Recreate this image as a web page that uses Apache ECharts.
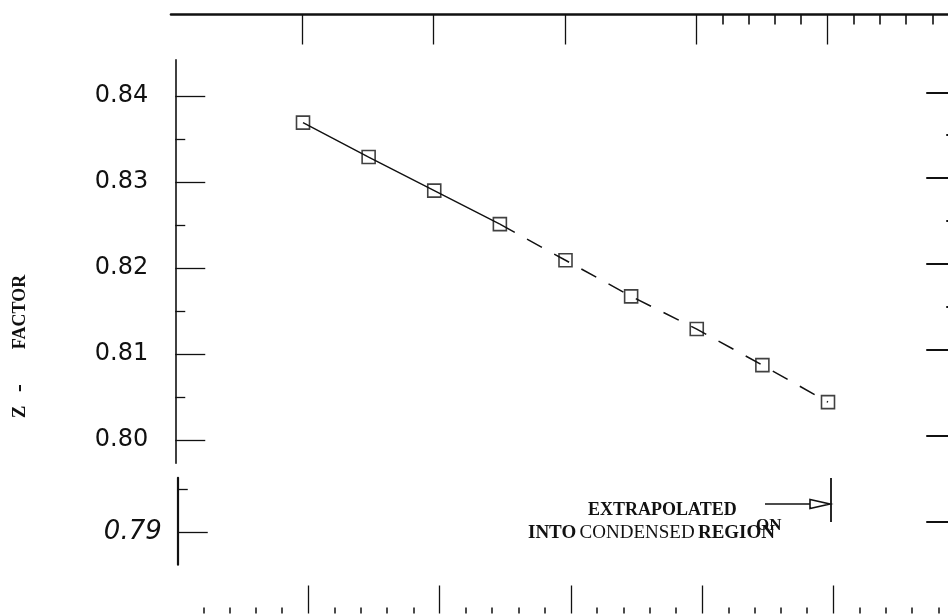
<!DOCTYPE html>
<html>
<head>
<meta charset="utf-8">
<title>Z - FACTOR</title>
<script src="https://cdn.jsdelivr.net/npm/echarts@6/dist/echarts.min.js"></script>
<style>
  html, body { margin: 0; padding: 0; background: #fff; }
  #chart { width: 948px; height: 614px; }
</style>
</head>
<body>
<div id="chart"></div>
<script>
// Measured Z-factor values (solid segment) and their extrapolation (dashed segment)
const xValues = [1.0, 1.5, 2.0, 2.5, 3.0, 3.5, 4.0, 4.5, 5.0];
const zFactor = [0.8369, 0.8329, 0.8290, 0.8251, 0.8209, 0.8167, 0.8129, 0.8087, 0.8044];
const measuredCount = 4;

// Tick positions
const zMajorUpper = [0.80, 0.81, 0.82, 0.83, 0.84];
const zMinorUpper = [0.805, 0.815, 0.825, 0.835];
const zMajorLower = [0.79];
const zMinorLower = [0.795];
const zMajorRight = [0.79, 0.80, 0.81, 0.82, 0.83, 0.84];
const zMinorRight = [0.815, 0.825, 0.835];
const xMajor = [1, 2, 3, 4, 5];
const xMinorTop = [4.2, 4.4, 4.6, 4.8, 5.2, 5.4, 5.6, 5.8];
const xMinorBottom = [0.2, 0.4, 0.6, 0.8, 1.2, 1.4, 1.6, 1.8, 2.2, 2.4, 2.6, 2.8,
                      3.2, 3.4, 3.6, 3.8, 4.2, 4.4, 4.6, 4.8, 5.2, 5.4, 5.6, 5.8];

const INK = '#111';
const SERIF = '"Liberation Serif", "DejaVu Serif", serif';
const points = xValues.map((x, i) => [x, zFactor[i]]);

function hiddenAxis(gridIndex, min, max) {
  return { gridIndex, type: 'value', min, max, show: false,
           axisLine: { onZero: false }, splitLine: { show: false } };
}

function tickAxis(opts) {
  return {
    gridIndex: opts.grid, type: 'value', position: opts.position,
    min: opts.min, max: opts.max, offset: opts.offset || 0,
    axisLine: { show: !!opts.lineWidth, onZero: false,
                lineStyle: { color: INK, width: opts.lineWidth || 1 } },
    axisTick: { show: true, inside: true, length: opts.length,
                customValues: opts.ticks,
                lineStyle: { color: INK, width: opts.tickWidth || 1.3 } },
    axisLabel: opts.label ? opts.label : { show: false },
    splitLine: { show: false },
    minorTick: { show: false }
  };
}

// The plotting frame runs a little past the right edge of the canvas.
function frameGrid(left, top, height) {
  return { left, top, width: 787.5, height, outerBoundsMode: 'none', containLabel: false };
}

// Vertical axis title pieces, read bottom to top
function titlePiece(text, y, size) {
  return {
    type: 'text', x: 20, y, rotation: Math.PI / 2,
    style: { text, fill: INK, fontFamily: SERIF, fontWeight: 'bold', fontSize: size,
             textAlign: 'center', textVerticalAlign: 'middle' }
  };
}

const chart = echarts.init(document.getElementById('chart'), null, { renderer: 'canvas' });

const option = {
  animation: false,
  backgroundColor: '#fff',
  grid: [
    frameGrid(171.75, 59.9, 403.3),   // main plotting area
    frameGrid(171.75, 477.8, 86.86),  // lower axis piece
    frameGrid(171.75, 49.4, 506.2),   // right-hand scale
    frameGrid(171, 14.5, 100),        // top frame
    frameGrid(177, 500, 113.5)        // bottom frame
  ],
  xAxis: [
    hiddenAxis(0, 0, 6),
    hiddenAxis(1, 0, 6),
    hiddenAxis(2, 0, 6),
    tickAxis({ grid: 3, position: 'top', min: 0, max: 6, lineWidth: 2.6,
               ticks: xMajor, length: 30 }),
    tickAxis({ grid: 3, position: 'top', min: 0, max: 6,
               ticks: xMinorTop, length: 10, tickWidth: 1.6 }),
    tickAxis({ grid: 4, position: 'bottom', min: 0, max: 6,
               ticks: xMajor, length: 28 }),
    tickAxis({ grid: 4, position: 'bottom', min: 0, max: 6,
               ticks: xMinorBottom, length: 6, tickWidth: 1.5 })
  ],
  yAxis: [
    tickAxis({ grid: 0, position: 'left', min: 0.7973, max: 0.8442, offset: -3.5,
               lineWidth: 1.6, ticks: zMajorUpper, length: 30,
               label: { show: true, customValues: zMajorUpper, margin: 27,
                        color: INK, fontFamily: 'DejaVu Sans', fontSize: 24,
                        formatter: v => v.toFixed(2) } }),
    tickAxis({ grid: 0, position: 'left', min: 0.7973, max: 0.8442, offset: -3.5,
               ticks: zMinorUpper, length: 10 }),
    tickAxis({ grid: 1, position: 'left', min: 0.7862, max: 0.7963, offset: -6,
               lineWidth: 2.2, ticks: zMajorLower, length: 30,
               label: { show: true, customValues: zMajorLower, margin: 16,
                        color: INK, fontFamily: 'DejaVu Sans', fontStyle: 'italic',
                        fontSize: 26, formatter: v => v.toFixed(2) } }),
    tickAxis({ grid: 1, position: 'left', min: 0.7862, max: 0.7963, offset: -6,
               ticks: zMinorLower, length: 10 }),
    tickAxis({ grid: 2, position: 'right', min: 0.786, max: 0.845,
               lineWidth: 2, ticks: zMajorRight, length: 33, tickWidth: 2 }),
    tickAxis({ grid: 2, position: 'right', min: 0.786, max: 0.845,
               ticks: zMinorRight, length: 13, tickWidth: 2 }),
    hiddenAxis(3, 0, 1),
    hiddenAxis(4, 0, 1)
  ],
  series: [
    {
      name: 'measured', type: 'line', xAxisIndex: 0, yAxisIndex: 0,
      data: points.slice(0, measuredCount),
      symbol: 'none', silent: true, z: 2,
      lineStyle: { color: INK, width: 1.4 }
    },
    {
      name: 'extrapolated', type: 'line', xAxisIndex: 0, yAxisIndex: 0,
      data: points.slice(measuredCount - 1),
      symbol: 'none', silent: true, z: 2,
      lineStyle: { color: INK, width: 1.5, type: [17, 14] }
    },
    {
      name: 'points', type: 'scatter', xAxisIndex: 0, yAxisIndex: 0,
      data: points, symbol: 'rect', symbolSize: 13, silent: true, z: 3,
      itemStyle: { color: 'rgba(0,0,0,0)', borderColor: INK, borderWidth: 1.6 }
    }
  ],
  graphic: [
    titlePiece('Z', 412, 19),
    titlePiece('-', 388, 24),
    titlePiece('FACTOR', 312, 18),
    {
      type: 'text', x: 588, y: 510,
      style: { text: 'EXTRAPOLATED', fill: INK,
               fontFamily: SERIF, fontWeight: 'bold', fontSize: 18,
               textAlign: 'left', textVerticalAlign: 'middle' }
    },
    {
      type: 'text', x: 528, y: 533,
      style: {
        text: '{b|INTO} {n|CONDENSED} {b|REGION}',
        textAlign: 'left', textVerticalAlign: 'middle',
        rich: {
          b: { fill: INK, fontFamily: SERIF, fontWeight: 'bold', fontSize: 19 },
          n: { fill: INK, fontFamily: SERIF, fontSize: 19 }
        }
      }
    },
    {
      type: 'text', x: 756, y: 526,
      style: { text: 'ON', fill: INK, fontFamily: SERIF,
               fontWeight: 'bold', fontSize: 17,
               textAlign: 'left', textVerticalAlign: 'middle' }
    },
    {
      type: 'line', shape: { x1: 765, y1: 504, x2: 810, y2: 504 },
      style: { stroke: INK, lineWidth: 1.5 }
    },
    {
      type: 'polygon', shape: { points: [[810, 499.5], [810, 508.5], [830, 504]] },
      style: { fill: '#fff', stroke: INK, lineWidth: 1.6 }
    },
    {
      type: 'line', shape: { x1: 831, y1: 478, x2: 831, y2: 522 },
      style: { stroke: INK, lineWidth: 1.8 }
    }
  ]
};

chart.setOption(option);
</script>
</body>
</html>
